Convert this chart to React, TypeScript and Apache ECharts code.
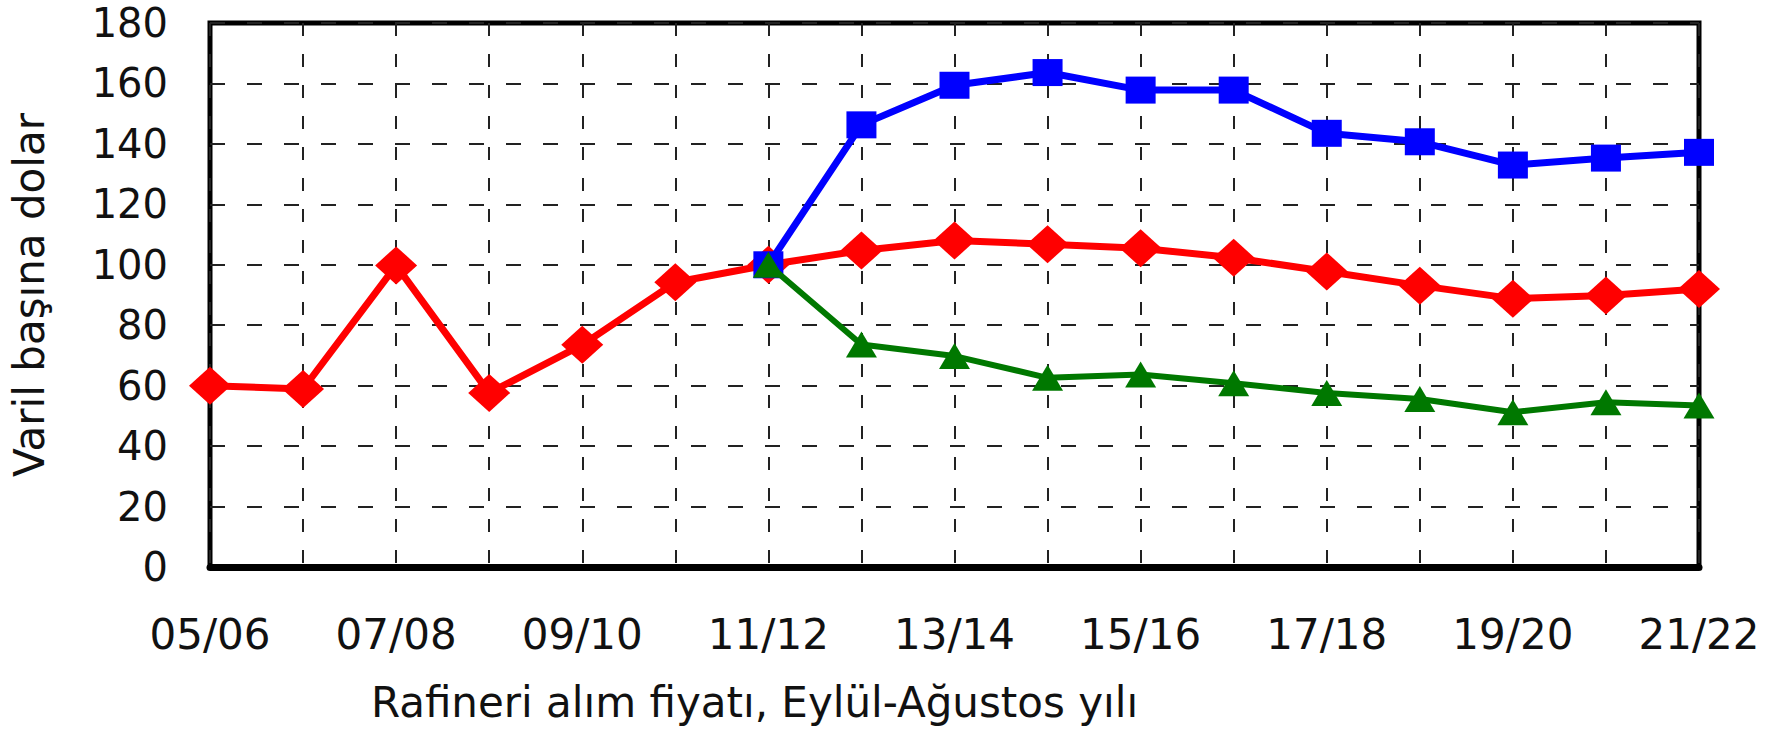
import React, { useEffect, useRef } from "react";
import * as echarts from "echarts";

const categories = [
  "05/06", "06/07", "07/08", "08/09", "09/10", "10/11", "11/12", "12/13", "13/14",
  "14/15", "15/16", "16/17", "17/18", "18/19", "19/20", "20/21", "21/22",
];
const redSeries = [60, 58.9, 99.8, 57.6, 73.5, 94.2, 100, 104.7, 108, 106.8, 105.5, 102.3, 97.8, 93.1, 88.8, 89.8, 92];
const blueSeries = [null, null, null, null, null, null, 100, 146.3, 159.4, 163.6, 157.8, 157.8, 143.5, 140.7, 133, 135.3, 137.2];
const greenSeries = [null, null, null, null, null, null, 100, 73.6, 69.8, 62.6, 63.7, 60.8, 57.6, 55.6, 51.2, 54.5, 53.4];
const yTicks = { min: 0, max: 180, interval: 20 };
const xTitle = "Rafineri alım fiyatı, Eylül-Ağustos yılı";
const yTitle = "Varil başına dolar";

const FONT = "DejaVu Sans";

export default function App() {
  const ref = useRef<HTMLDivElement>(null);
  useEffect(() => {
    if (!ref.current) return;
    const chart = echarts.init(ref.current, null, { renderer: "svg" });
    chart.setOption({
      animation: false,
      backgroundColor: "#ffffff",
      grid: {
        left: 210,
        right: 92,
        top: 23,
        bottom: 166,
        show: true,
        borderColor: "#000",
        borderWidth: 5,
        backgroundColor: "transparent",
      },
      xAxis: {
        type: "category",
        data: categories,
        boundaryGap: false,
        name: xTitle,
        nameLocation: "middle",
        nameGap: 114,
        nameTextStyle: {
          fontFamily: FONT,
          fontSize: 42,
          color: "#111",
          lineHeight: 42,
          padding: [0, 400, 0, 0],
        },
        axisLine: { show: true, lineStyle: { color: "#000", width: 7 } },
        axisTick: { show: false },
        axisLabel: {
          interval: 1,
          margin: 46,
          fontFamily: FONT,
          fontSize: 42,
          color: "#111",
          lineHeight: 42,
        },
        splitLine: {
          show: true,
          interval: 0,
          lineStyle: { color: "#222", width: 2, type: [13, 18] },
        },
      },
      yAxis: {
        type: "value",
        min: yTicks.min,
        max: yTicks.max,
        interval: yTicks.interval,
        name: yTitle,
        nameLocation: "middle",
        nameGap: 160,
        nameRotate: 90,
        nameTextStyle: { fontFamily: FONT, fontSize: 42, color: "#111", lineHeight: 42 },
        axisLine: { show: false },
        axisTick: { show: false },
        axisLabel: { margin: 42, fontFamily: FONT, fontSize: 40, color: "#111", lineHeight: 32 },
        splitLine: {
          show: true,
          lineStyle: { color: "#222", width: 2, type: [15, 22] },
        },
      },
      series: [
        {
          type: "line",
          data: redSeries,
          symbol: "diamond",
          symbolSize: [42, 38],
          showAllSymbol: true,
          lineStyle: { color: "#ff0000", width: 7 },
          itemStyle: { color: "#ff0000" },
          z: 2,
        },
        {
          type: "line",
          data: blueSeries,
          symbol: "rect",
          symbolSize: [30, 27],
          showAllSymbol: true,
          lineStyle: { color: "#0000ff", width: 7 },
          itemStyle: { color: "#0000ff" },
          z: 3,
        },
        {
          type: "line",
          data: greenSeries,
          symbol: "triangle",
          symbolSize: [31, 26],
          showAllSymbol: true,
          lineStyle: { color: "#007800", width: 6 },
          itemStyle: { color: "#007800" },
          z: 4,
        },
      ],
    });
    return () => chart.dispose();
  }, []);
  return (
    <div
      ref={ref}
      style={{ position: "fixed", left: 0, top: 0, width: 1791, height: 733 }}
    />
  );
}
